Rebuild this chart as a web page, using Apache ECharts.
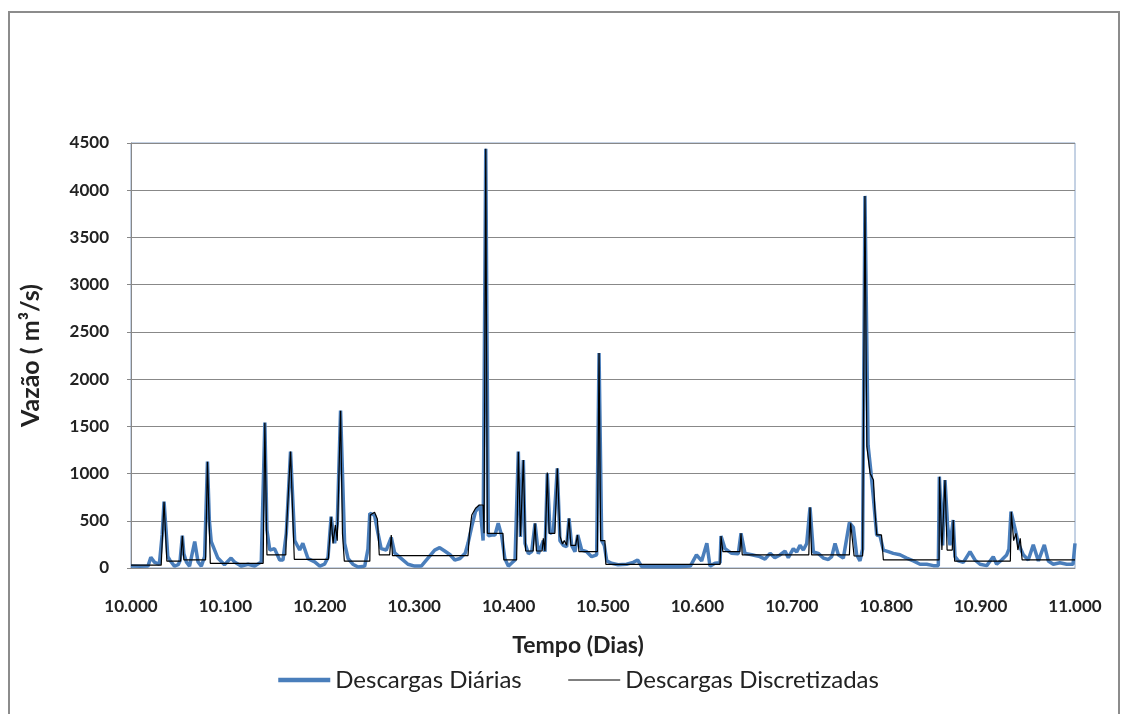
<!DOCTYPE html>
<html>
<head>
<meta charset="utf-8">
<script src="https://cdn.jsdelivr.net/npm/echarts@6/dist/echarts.min.js"></script>
<style>
html,body{margin:0;padding:0;background:#fff;}
#chart{width:1129px;height:714px;}
</style>
</head>
<body>
<div id="chart"></div>
<script>
// ---- data (day, discharge m3/s) ----
const seriesNames = ['Descargas Diárias', 'Descargas Discretizadas'];
const axisTitles = { x: 'Tempo (Dias)', y: 'Vazão ( m³/s)' };
const xRange = [10000, 11000, 100];
const yRange = [0, 4500, 500];

const dailyDays = [
10000,10009.5,10018,10021,10025,10030,10033,10035,10037,10039,10041,10046,10050,10052,10054.4,10056,10058.6,10062,10067.5,10071,10074.5,10078,10081,10083,10085,10092,10099,10106,10110,10117,10124,10131,10138,10141.8,10144,10147,10152,10157.5,10161,10164.5,10169,10173.4,10178.7,10182,10187.5,10194.6,10200,10205,10208.7,10212,10215.7,10218.5,10222,10226.3,10230,10235,10240.5,10247.6,10251,10253,10258,10261.6,10265,10270.4,10275.7,10279.3,10286.4,10293.4,10300.5,10307.5,10314.6,10321.7,10327,10332.3,10338,10343,10348.5,10354,10357,10361,10365,10369.7,10373,10375.8,10378.5,10382,10385.6,10389,10392.7,10396,10399.7,10403,10406.8,10410.3,10412.6,10415.6,10417.4,10421,10424.5,10428,10431.5,10436.8,10438.6,10441,10443.9,10447.4,10451.6,10454.4,10458,10461.5,10464,10466.8,10470.3,10473.2,10477.4,10482.7,10488,10493.3,10495.8,10498.6,10501.4,10504,10509,10516,10525,10532,10536.7,10541,10551.6,10565.7,10580,10592.5,10599,10604.5,10610,10613.3,10618.6,10624,10625,10629.2,10636.3,10643.3,10646.2,10650.4,10657.5,10666,10671.6,10677,10682,10687.5,10692.8,10696.3,10701.6,10705.2,10708.7,10712.2,10715.8,10719.3,10722.8,10728,10733.4,10738.7,10742.3,10745.8,10749.3,10754.6,10761,10765.2,10768.7,10772.2,10775,10777.5,10780.8,10784,10786.3,10789.9,10793.4,10797,10802.2,10807.5,10814.6,10821.7,10828.7,10835.8,10842.9,10850,10855.2,10856.3,10859.8,10862.3,10865,10867.6,10871,10872.9,10876.4,10881.7,10888.8,10894,10899.4,10906.5,10913.4,10917,10922.3,10927.6,10930,10932.2,10936.4,10940,10941.7,10945.2,10950.5,10955.8,10961.2,10967.5,10971.7,10977,10984,10991.2,10997.9,11000
];
const dailyValues = [
20,18,20,113,60,40,350,702,420,120,85,20,35,80,342,150,65,20,280,65,20,120,1126,500,280,105,35,105,60,20,40,20,65,1539,400,190,205,85,85,367,1232,290,190,261,100,65,20,40,112,543,261,470,1666,261,100,40,10,20,200,579,560,370,205,190,323,160,100,40,20,20,105,190,215,180,140,85,100,155,261,440,600,660,290,4440,340,350,350,473,340,100,20,50,85,1232,330,1143,261,150,173,473,150,290,173,1002,367,385,1055,290,240,225,526,240,173,350,190,173,120,140,2276,290,240,75,50,35,40,60,85,15,12,15,12,20,138,75,261,20,50,55,338,205,155,150,367,155,140,120,95,155,110,138,180,110,205,170,240,190,260,642,170,155,105,90,120,260,140,105,480,430,140,75,200,3940,1300,1000,755,350,340,190,173,155,140,105,75,40,40,25,25,967,240,932,450,240,508,120,75,60,173,85,40,25,120,40,85,138,200,596,420,260,240,140,85,245,75,245,75,40,55,40,40,260
];

const discDays = [
10000,10032,10035,10038,10052.5,10054.4,10056,10079,10081,10084,10140,10141.8,10144,10164,10164.5,10169,10173,10209,10212,10214,10216.5,10218.5,10222,10224,10226,10253,10253.5,10258,10261,10263,10274,10275.7,10277,10357,10358.5,10361,10365,10369,10373,10374,10375.8,10377.5,10394,10395,10408.5,10410.3,10412.6,10415.6,10418,10426,10428,10429.5,10435.5,10436.8,10438.5,10441,10443,10449,10451.6,10454.5,10457,10459,10461.5,10464,10466,10471,10473,10474.5,10494,10495.8,10497.5,10502,10503,10624,10625,10627,10645,10646.2,10647.5,10718,10719.3,10721,10761,10762.4,10764.5,10766,10775,10777.5,10779.5,10783,10786.5,10788,10790,10795,10797,10856,10856.5,10859,10862.3,10864.5,10870,10871,10872.5,10931.5,10932.5,10935,10937.5,10939.5,10942,10944,11000
];
const discValues = [
30,30,702,72,72,342,85,85,1126,50,50,1539,138,138,367,1232,92,92,543,261,455,290,1666,367,72,72,560,590,520,138,138,350,130,130,367,561,632,667,667,367,4440,367,367,85,85,1232,338,1143,180,180,473,180,180,314,180,1010,367,367,1055,338,254,290,240,526,240,240,350,173,173,2276,290,290,39,39,338,173,173,367,138,138,642,138,138,473,473,127,127,3940,1285,1000,932,614,350,350,85,85,967,190,932,190,190,508,72,72,596,290,367,190,314,85,85
];

function pairs(xs, ys){ return xs.map((x,i)=>[x, ys[i]]); }
function fmtDay(v){ const t = Math.floor(v/1000); const r = String(Math.round(v%1000)).padStart(3,'0'); return t + '.' + r; }

const FONT = 'Lato';
const BLUE = '#4a7ebb';
const HIDDEN = {color:'rgba(0,0,0,0)', borderWidth:0, opacity:0};
const chart = echarts.init(document.getElementById('chart'), null, {renderer:'canvas'});
chart.setOption({
  animation:false,
  backgroundColor:'#ffffff',
  graphic:[{type:'rect', shape:{x:9,y:12,width:1110,height:720}, style:{fill:'none', stroke:'#8c8c8c', lineWidth:2}, silent:true}],
  grid:{left:131, right:54, top:143, bottom:146, show:true, borderColor:'#8aa4c8', borderWidth:1, backgroundColor:'transparent'},
  legend:{
    top:663, left:271, itemWidth:52, itemHeight:14, itemGap:46,
    textStyle:{fontFamily:FONT, fontSize:24, color:'#222'},
    data:[
      {name:seriesNames[0], lineStyle:{width:4.5, color:BLUE}, itemStyle:HIDDEN},
      {name:seriesNames[1], lineStyle:{width:1, color:'#000'}, itemStyle:HIDDEN}
    ]
  },
  xAxis:{
    type:'value', min:xRange[0], max:xRange[1], interval:xRange[2],
    name:axisTitles.x, nameLocation:'middle', nameGap:66,
    nameTextStyle:{fontFamily:FONT, fontSize:23, fontWeight:'bold', color:'#222', padding:[0,50,0,0]},
    axisLine:{show:true, onZero:false, lineStyle:{color:'#888', width:1}},
    axisTick:{show:false},
    splitLine:{show:false},
    axisLabel:{formatter:fmtDay, fontFamily:FONT, fontSize:17, fontWeight:'bold', color:'#222', margin:30}
  },
  yAxis:{
    type:'value', min:yRange[0], max:yRange[1], interval:yRange[2],
    name:axisTitles.y, nameLocation:'middle', nameGap:88, nameRotate:90,
    nameTextStyle:{fontFamily:FONT, fontSize:25, fontWeight:'bold', color:'#222'},
    axisLine:{show:true, lineStyle:{color:'#888', width:1}},
    axisTick:{show:true, length:4, lineStyle:{color:'#888'}},
    splitLine:{show:true, lineStyle:{color:'#888', width:1}},
    axisLabel:{formatter:function(v){return String(v);}, fontFamily:FONT, fontSize:17, fontWeight:'bold', color:'#222', margin:22}
  },
  series:[
    {name:seriesNames[0], type:'line', data:pairs(dailyDays, dailyValues), showSymbol:false, symbol:'none',
     lineStyle:{color:BLUE, width:3.5}, itemStyle:{color:BLUE}, z:2},
    {name:seriesNames[1], type:'line', data:pairs(discDays, discValues), showSymbol:false, symbol:'none',
     lineStyle:{color:'#000', width:1.2}, itemStyle:{color:'#000'}, z:3}
  ]
});
</script>
</body>
</html>
